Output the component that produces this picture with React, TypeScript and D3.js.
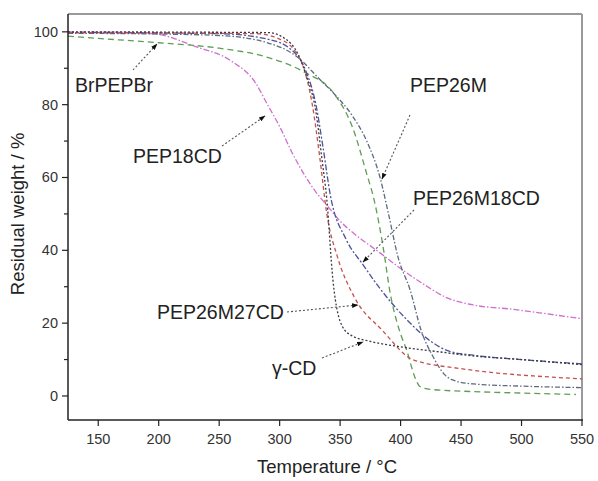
import React from "react";
import * as d3 from "d3";

const xTicks = [150, 200, 250, 300, 350, 400, 450, 500, 550];
const yTicks = [0, 20, 40, 60, 80, 100];
const yMinor = [10, 30, 50, 70, 90];

const tPEP18CD = [125, 180, 200, 230, 260, 280, 290, 300, 310, 320, 330, 340, 350, 360, 383, 400, 420, 438, 460, 493, 520, 550];
const vPEP18CD = [100, 99.8, 99.3, 96, 92, 86, 80, 74, 67, 61, 56, 52, 48, 45, 39.3, 35, 30.5, 27, 25, 23.8, 22.6, 21.2];

const tBrPEPBr = [125, 150, 200, 250, 290, 320, 345, 360, 372, 378, 386, 391, 399, 405, 412, 416, 425, 460, 500, 545];
const vBrPEPBr = [98.8, 98.2, 97, 95.5, 93, 89, 83, 74, 61, 54, 40, 29, 18, 12.6, 5, 2.6, 1.8, 1.2, 0.8, 0.4];

const tPEP26M = [125, 200, 250, 290, 315, 333, 345, 360, 372, 383, 390, 398, 408, 417, 427, 436, 443, 460, 500, 550];
const vPEP26M = [99.6, 99.4, 99, 97, 93, 87, 83, 77, 70, 60, 50, 38, 29, 18, 10.7, 6, 4.4, 3.3, 2.7, 2.3];

const tPEP26M18CD = [125, 250, 290, 310, 322, 330, 336, 342, 355, 369, 383, 405, 425, 440, 460, 500, 550];
const vPEP26M18CD = [99.8, 99.5, 98, 95, 89, 80, 68, 55, 43, 36, 29.5, 21, 15, 12.3, 11.2, 10, 8.8];

const tPEP26M27CD = [125, 280, 300, 312, 320, 327, 333, 339, 348, 362, 385, 410, 450, 480, 510, 550];
const vPEP26M27CD = [99.8, 99.5, 98, 95, 90, 80, 66, 50, 38, 27, 18, 10, 7.5, 6.3, 5.5, 4.7];

const tGammaCD = [125, 290, 305, 315, 322, 330, 335, 339, 344, 352, 360, 375, 400, 430, 460, 500, 550];
const vGammaCD = [100, 99.8, 98, 94, 88, 78, 65, 54, 32, 19, 16.5, 15, 13.5, 12.2, 11, 10, 8.6];

const seriesNames = ["PEP18CD", "BrPEPBr", "PEP26M", "PEP26M18CD", "PEP26M27CD", "γ-CD"];

const W = 598;
const H = 481;
const left = 68;
const right = 582;
const top = 14;
const bottom = 420;

export default function App() {
  const x = d3.scaleLinear().domain([125, 550]).range([left, right]);
  const y = d3.scaleLinear().domain([-6.6, 104.9]).range([bottom, top]);

  const series = [
    { name: seriesNames[0], t: tPEP18CD, v: vPEP18CD, color: "#cf6fcf", dash: "6,2,1.5,2" },
    { name: seriesNames[1], t: tBrPEPBr, v: vBrPEPBr, color: "#5f9d55", dash: "6,4" },
    { name: seriesNames[2], t: tPEP26M, v: vPEP26M, color: "#5d6b7e", dash: "5,2,1.5,2" },
    { name: seriesNames[3], t: tPEP26M18CD, v: vPEP26M18CD, color: "#4d5299", dash: "6,2,2,2" },
    { name: seriesNames[4], t: tPEP26M27CD, v: vPEP26M27CD, color: "#c7504e", dash: "4,3" },
    { name: seriesNames[5], t: tGammaCD, v: vGammaCD, color: "#3a3a48", dash: "2,2" },
  ];

  const line = d3
    .line<[number, number]>()
    .x((d) => x(d[0]))
    .y((d) => y(d[1]))
    .curve(d3.curveMonotoneX);

  const labels = [
    { text: "BrPEPBr", lx: 75, ly: 92, from: [133, 70], to: [157, 44] },
    { text: "PEP18CD", lx: 133, ly: 163, from: [222, 146], to: [265, 116] },
    { text: "PEP26M", lx: 410, ly: 92, from: [410, 115], to: [382, 179] },
    { text: "PEP26M18CD", lx: 413, ly: 205, from: [414, 210], to: [363, 262] },
    { text: "PEP26M27CD", lx: 157, ly: 319, from: [287, 312], to: [358, 305] },
    { text: "γ-CD", lx: 272, ly: 375, from: [322, 358], to: [363, 342] },
  ];

  const font = "Liberation Sans, Arial, sans-serif";

  return (
    <svg width={W} height={H} style={{ position: "absolute", left: 0, top: 0, background: "#fff" }}>
      <defs>
        <marker id="ah" viewBox="0 0 10 10" refX="9" refY="5" markerWidth="6" markerHeight="6" orient="auto">
          <path d="M0,1.5 L10,5 L0,8.5 Z" fill="#111" />
        </marker>
      </defs>
      <rect x={0} y={0} width={W} height={H} fill="#fff" />
      <line x1={left} y1={top} x2={right} y2={top} stroke="#9a9a9a" strokeWidth={2} />
      <line x1={right} y1={top} x2={right} y2={bottom} stroke="#9a9a9a" strokeWidth={2} />

      {series.map((s) => (
        <path
          key={s.name}
          d={line(s.t.map((t, i) => [t, s.v[i]] as [number, number])) || ""}
          fill="none"
          stroke={s.color}
          strokeWidth={1.3}
          strokeDasharray={s.dash}
        />
      ))}

      <line x1={left} y1={top} x2={left} y2={bottom} stroke="#222" strokeWidth={1.5} />
      <line x1={left} y1={bottom} x2={right + 1} y2={bottom} stroke="#222" strokeWidth={1.5} />

      {xTicks.map((t) => (
        <g key={"x" + t}>
          <line x1={x(t)} y1={bottom} x2={x(t)} y2={bottom + 6} stroke="#222" strokeWidth={1.2} />
          <text x={x(t)} y={444} textAnchor="middle" fontFamily={font} fontSize={14.5} fill="#333">
            {t}
          </text>
        </g>
      ))}
      {yTicks.map((t) => (
        <g key={"y" + t}>
          <line x1={left - 6} y1={y(t)} x2={left} y2={y(t)} stroke="#222" strokeWidth={1.2} />
          <text x={left - 10} y={y(t) + 5} textAnchor="end" fontFamily={font} fontSize={14.5} fill="#333">
            {t}
          </text>
        </g>
      ))}
      {yMinor.map((t) => (
        <line key={"ym" + t} x1={left - 4} y1={y(t)} x2={left} y2={y(t)} stroke="#222" strokeWidth={1.2} />
      ))}

      <text x={327} y={473} textAnchor="middle" fontFamily={font} fontSize={18.5} fill="#222">
        Temperature / °C
      </text>
      <text
        transform={`translate(24, ${y(50)}) rotate(-90)`}
        textAnchor="middle"
        fontFamily={font}
        fontSize={18.5}
        fill="#222"
      >
        Residual weight / %
      </text>

      {labels.map((l) => (
        <g key={l.text}>
          <line
            x1={l.from[0]}
            y1={l.from[1]}
            x2={l.to[0]}
            y2={l.to[1]}
            stroke="#555"
            strokeWidth={1.1}
            strokeDasharray="2,2"
            markerEnd="url(#ah)"
          />
          <text x={l.lx} y={l.ly} fontFamily={font} fontSize={19.5} fill="#222">
            {l.text}
          </text>
        </g>
      ))}
    </svg>
  );
}
